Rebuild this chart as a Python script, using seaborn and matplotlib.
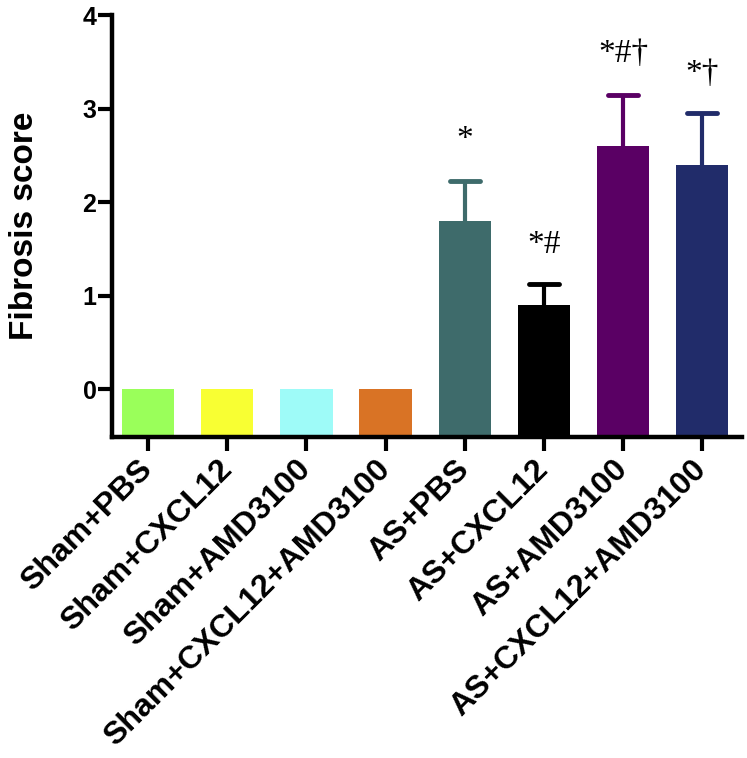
import matplotlib
matplotlib.use("Agg")
import matplotlib.pyplot as plt
import pandas as pd
import seaborn as sns

# --- データ ---
groups = ["Sham+PBS", "Sham+CXCL12", "Sham+AMD3100", "Sham+CXCL12+AMD3100",
          "AS+PBS", "AS+CXCL12", "AS+AMD3100", "AS+CXCL12+AMD3100"]
score = [0, 0, 0, 0, 1.8, 0.9, 2.6, 2.4]
sem = [0, 0, 0, 0, 0.43, 0.22, 0.55, 0.55]
marks = ["", "", "", "", "*", "*#", "*#\u2020", "*\u2020"]
mark_y = [0, 0, 0, 0, 2.58, 1.46, 3.50, 3.28]
colors = ["#9AFF5A", "#F8FF33", "#9EFBF8", "#D97325",
          "#3E6B6B", "#000000", "#5A0064", "#212C6A"]

Y_BASE = -0.51
CAP = 0.19  # キャップの半幅（x 単位）

sns.set_theme(style="ticks")
plt.rcParams["font.family"] = ["Liberation Sans", "DejaVu Sans"]
plt.rcParams["font.weight"] = "bold"
for key in ["text.color", "axes.labelcolor", "xtick.color", "ytick.color"]:
    plt.rcParams[key] = "black"

df = pd.DataFrame({"group": groups, "score": score})

fig = plt.figure(figsize=(7.47, 7.58), dpi=100)
ax = fig.add_axes([0.1495, 0.4235, 0.8434, 0.5567])

sns.barplot(data=df, x="group", y="score", hue="group", palette=colors,
            order=groups, legend=False, width=0.66, saturation=1,
            errorbar=None, ax=ax)

# 棒の下端を軸の下端に合わせる
for p, v in zip(ax.patches, score):
    p.set_y(Y_BASE)
    p.set_height(v - Y_BASE)
    p.set_linewidth(0)

# 上側だけのエラーバー
for i, (v, e, c) in enumerate(zip(score, sem, colors)):
    if e > 0:
        ax.vlines(i, v, v + e, color=c, linewidth=3)
        ax.hlines(v + e, i - CAP, i + CAP, color=c, linewidth=3.5,
                  capstyle="round")
    if marks[i]:
        ax.text(i, mark_y[i], marks[i], ha="center", va="baseline",
                fontsize=24, family=["Liberation Serif", "DejaVu Serif"],
                fontweight="normal")

ax.set_ylim(Y_BASE, 4)
ax.set_xlim(-0.46, 7.5)
ax.set_yticks([0, 1, 2, 3, 4])
ax.set_xlabel("")
ax.set_ylabel("Fibrosis score", fontsize=24, fontweight="bold")
ax.yaxis.set_label_coords(-0.114, 0.5)

for s in ["top", "right"]:
    ax.spines[s].set_visible(False)
for s in ["left", "bottom"]:
    ax.spines[s].set_linewidth(3.2)
    ax.spines[s].set_color("black")

ax.tick_params(axis="both", direction="out", length=10, width=3, color="black")
ax.tick_params(axis="y", labelsize=18, pad=1)
ax.tick_params(axis="x", labelsize=23, pad=10)
for lab in ax.get_xticklabels():
    lab.set_rotation(45)
    lab.set_ha("right")
    lab.set_va("center")
    lab.set_rotation_mode("anchor")
    lab.set_fontweight("bold")
for lab in ax.get_yticklabels():
    lab.set_fontweight("bold")

fig.savefig("out.png", dpi=100)
